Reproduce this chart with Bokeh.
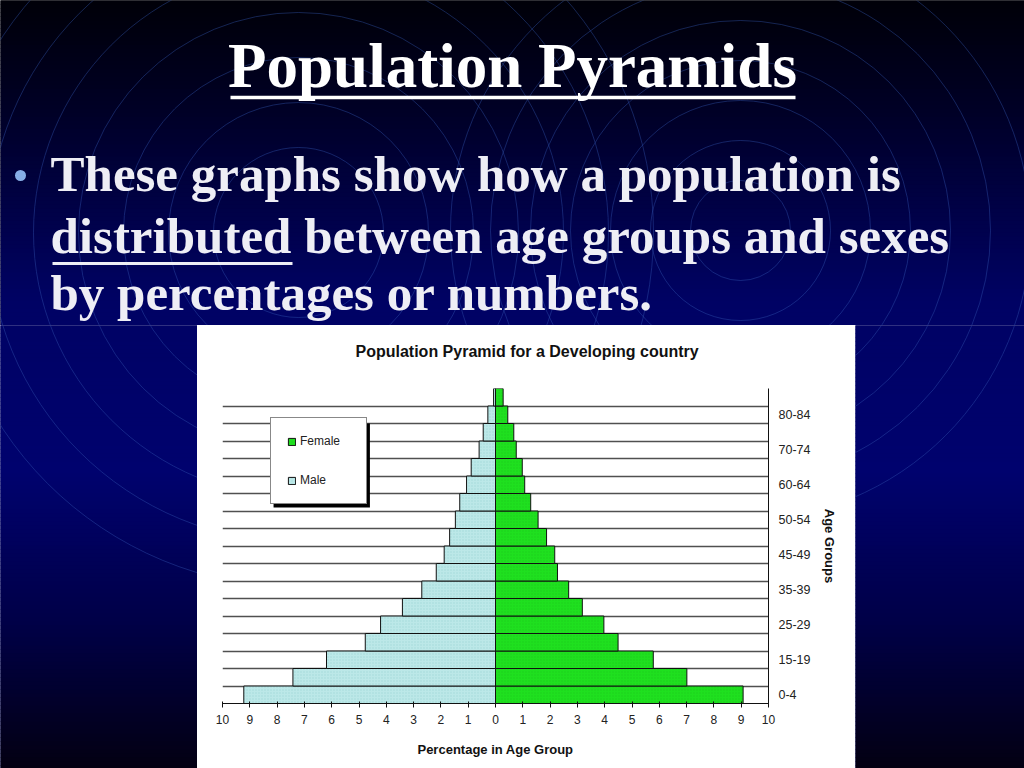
from bokeh.plotting import figure
from bokeh.models import Range1d, FixedTicker, Legend, LegendItem, Title
from bokeh.layouts import column, row
from bokeh.core.properties import value
from bokeh.embed import file_html
from bokeh.resources import INLINE

# ---------------- data ----------------
slide_title = "Population Pyramids"
bullet_lines = ["These graphs show how a population is",
                "distributed between age groups and sexes",
                "by percentages or numbers."]
chart_title = "Population Pyramid for a Developing country"

# rows from bottom (index 0) to top (index 17); labels as printed on the axis
row_labels = ["0-4", "", "15-19", "", "25-29", "", "35-39", "", "45-49", "",
              "50-54", "", "60-64", "", "70-74", "", "80-84", ""]
male = [9.22, 7.42, 6.19, 4.77, 4.21, 3.41, 2.70, 2.17, 1.88, 1.68,
        1.47, 1.31, 1.06, 0.89, 0.60, 0.45, 0.28, 0.07]
female = [9.07, 7.01, 5.78, 4.49, 3.97, 3.18, 2.68, 2.27, 2.17, 1.87,
          1.56, 1.29, 1.07, 0.98, 0.76, 0.67, 0.45, 0.28]
x_ticks = [-10, -9, -8, -7, -6, -5, -4, -3, -2, -1, 0, 1, 2, 3, 4, 5, 6, 7, 8, 9, 10]
x_tick_labels = ["10", "9", "8", "7", "6", "5", "4", "3", "2", "1", "0",
                 "1", "2", "3", "4", "5", "6", "7", "8", "9", "10"]

MALE_COLOR = "#bce8e8"
FEMALE_COLOR = "#1fe01f"
SANS = "Liberation Sans"
SERIF = "Liberation Serif"

# ---------------- background helpers ----------------
bg_stops = [(0, (0, 0, 8)), (110, (0, 0, 38)), (300, (0, 2, 100)),
            (470, (0, 2, 110)), (620, (0, 0, 72)), (768, (3, 0, 18))]


def bg_color(yy):
    yy = min(max(yy, 0), 768)
    for (ya, ca), (yb, cb) in zip(bg_stops[:-1], bg_stops[1:]):
        if ya <= yy <= yb:
            t = (yy - ya) / (yb - ya)
            c = [round(a + (b - a) * t) for a, b in zip(ca, cb)]
            return "#%02x%02x%02x" % tuple(c)
    return "#000010"


circle_sets = [((298, 232), [85, 130, 175, 220, 265, 310, 355]),
               ((740, 230), [50, 90, 130, 170, 210, 250, 290])]


def bg_fig(x0, x1, y0, y1):
    f = figure(width=x1 - x0, height=y1 - y0, x_range=Range1d(x0, x1),
               y_range=Range1d(y1, y0), output_backend="svg", toolbar_location=None,
               min_border=0, x_axis_location=None, y_axis_location=None)
    f.grid.visible = False
    f.outline_line_color = None
    f.background_fill_color = bg_color(y0)
    f.border_fill_color = bg_color(y0)
    ys = list(range(y0 - 8, y1 + 8, 4))
    f.quad(left=[x0 - 10] * len(ys), right=[x1 + 10] * len(ys), top=ys,
           bottom=[y + 4.6 for y in ys],
           fill_color=[bg_color(y + 2) for y in ys], line_color=None)
    for (cx, cy), radii in circle_sets:
        f.circle(x=[cx] * len(radii), y=[cy] * len(radii), radius=radii,
                 fill_color=None, line_color="#3355b0", line_alpha=0.42, line_width=1)
    return f


# ---------------- header ----------------
header = bg_fig(0, 1024, 0, 325)
header.text(x=[512], y=[65], text=[slide_title], text_font=value(SERIF),
            text_font_style="bold", text_font_size="63px", text_color="#ffffff",
            text_align="center", text_baseline="alphabetic")
header.segment(x0=[230], y0=[97], x1=[795], y1=[97], line_width=3.5, line_color="#ffffff")
header.scatter(x=[20], y=[175], size=11, marker="circle", fill_color="#86aee6", line_color=None)
header.text(x=[50, 50, 50], y=[173, 235, 292], text=bullet_lines, text_font=value(SERIF),
            text_font_style="bold", text_font_size="51px", text_color="#eeeef5",
            text_align="left", text_baseline="alphabetic")
header.segment(x0=[52], y0=[263], x1=[292], y1=[263], line_width=3, line_color="#eeeef5")

left = bg_fig(0, 197, 325, 768)
right = bg_fig(855, 1024, 325, 768)

# ---------------- pyramid chart ----------------
rows = [i + 0.5 for i in range(len(male))]
p = figure(width=658, height=443, x_range=Range1d(-10, 10), y_range=Range1d(0, 18),
           output_backend="svg", toolbar_location=None, y_axis_location="right",
           min_border_left=25, min_border_right=87, min_border_top=63, min_border_bottom=65,
           title=chart_title)
p.background_fill_color = "white"
p.border_fill_color = "white"
p.outline_line_color = None
p.title.text_font = SANS
p.title.text_font_size = "16px"
p.title.text_font_style = "bold"
p.title.text_color = "#111111"
p.title.align = "left"
p.title.vertical_align = "top"
p.title.offset = 133
p.title.standoff = 10
# empty spacer between the chart title and the plot area
p.add_layout(Title(text=" ", text_font_size="2px", standoff=18), "above")

p.xgrid.visible = False
p.ygrid.ticker = FixedTicker(ticks=list(range(1, 18)))
p.ygrid.grid_line_color = "#505050"
p.ygrid.grid_line_width = 1.5

# legend shadow
p.quad(left=[-8.13], right=[-4.6], top=[16.0], bottom=[11.2], fill_color="#000000", line_color=None)

rm = p.hbar(y=rows, left=[-m for m in male], right=[0] * len(male), height=1.0,
            fill_color=MALE_COLOR, line_color="#111111", line_width=1,
            hatch_pattern=".", hatch_color="#8cc8c8", hatch_alpha=0.5, hatch_scale=3)
rf = p.hbar(y=rows, left=[0] * len(female), right=female, height=1.0,
            fill_color=FEMALE_COLOR, line_color="#111111", line_width=1,
            hatch_pattern=".", hatch_color="#10b010", hatch_alpha=0.35, hatch_scale=3)

xa = p.xaxis[0]
xa.ticker = FixedTicker(ticks=x_ticks)
xa.major_label_overrides = {t: lab for t, lab in zip(x_ticks, x_tick_labels)}
xa.minor_tick_line_color = None
xa.major_tick_in = 2
xa.major_tick_out = 4
xa.axis_line_color = "#111111"
xa.major_tick_line_color = "#111111"
xa.major_label_text_font = SANS
xa.major_label_text_font_size = "12px"
xa.major_label_text_color = "#222222"
xa.major_label_standoff = 7
xa.axis_label = "Percentage in Age Group"
xa.axis_label_text_font = SANS
xa.axis_label_text_font_size = "13px"
xa.axis_label_text_font_style = "bold"
xa.axis_label_text_color = "#111111"
xa.axis_label_standoff = 15

ya = p.yaxis[0]
ya.ticker = FixedTicker(ticks=rows)
ya.major_label_overrides = {r: lab for r, lab in zip(rows, row_labels)}
ya.minor_tick_line_color = None
ya.major_tick_in = 0
ya.major_tick_out = 0
ya.axis_line_color = "#111111"
ya.major_label_text_font = SANS
ya.major_label_text_font_size = "12.5px"
ya.major_label_text_color = "#222222"
ya.major_label_standoff = 10
ya.axis_label = "Age Groups"
ya.axis_label_text_font = SANS
ya.axis_label_text_font_size = "13px"
ya.axis_label_text_font_style = "bold"
ya.axis_label_text_color = "#111111"
ya.axis_label_standoff = 9

legend = Legend(items=[LegendItem(label="Female", renderers=[rf]),
                       LegendItem(label="Male", renderers=[rm])],
                location=(48, 199), orientation="vertical",
                border_line_color="#111111", border_line_width=1,
                background_fill_color="white", background_fill_alpha=1.0,
                glyph_width=9, glyph_height=9, label_height=14, label_width=50,
                label_standoff=4, spacing=25, padding=16, margin=0,
                label_text_font=SANS, label_text_font_size="12px", label_text_color="#222222")
p.add_layout(legend)

layout = column(header, row(column(left), p, column(right)))
open("out.html", "w").write(file_html(layout, INLINE))
